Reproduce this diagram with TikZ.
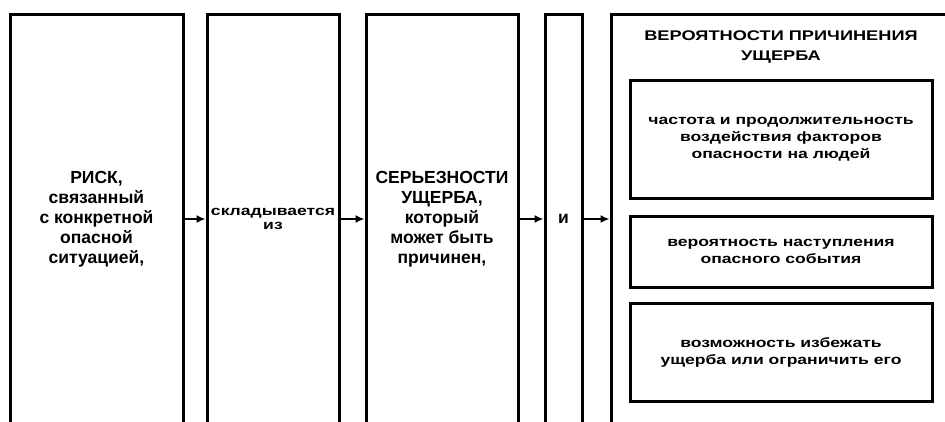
\documentclass[tikz,border=0pt]{standalone}
\usepackage{fontspec}
\setmainfont{Liberation Sans}
\newfontfamily\widefont{Liberation Sans}[FakeStretch=1.3]
\usepackage{tikz}
\usetikzlibrary{arrows.meta}

\tikzset{
	tall/.style={draw, line width=3pt, minimum height=410pt, inner sep=0pt},
	inbox/.style={draw, line width=3pt, minimum width=302pt, inner sep=0pt},
	bigtxt/.style={font=\fontsize{17.5}{20}\selectfont\bfseries, align=center},
	smalltxt/.style={font=\widefont\fontsize{13.5}{17}\selectfont\bfseries, align=center},
	arr/.style={-{Latex[length=9pt,width=8pt]}, line width=1.6pt}
}

\begin{document}
\begin{tikzpicture}[x=1pt,y=-1pt]
		\useasboundingbox (0,0) rectangle (945,421);
		\clip (0,0) rectangle (945,421);

		\node[tall, bigtxt, minimum width=173pt] (risk) at (96.5,219) {РИСК,\\связанный\\с конкретной\\опасной\\ситуацией,};
		\node[tall, smalltxt, minimum width=132pt, font=\widefont\fontsize{13.5}{14}\selectfont\bfseries] (sum) at (273,219) {складывается\\из};
		\node[tall, bigtxt, minimum width=152pt] (sev) at (442,219) {СЕРЬЕЗНОСТИ\\УЩЕРБА,\\который\\может быть\\причинен,};
		\node[tall, bigtxt, minimum width=37pt] (and) at (563.5,219) {и};
		\node[tall, minimum width=349pt] (prob) at (785.5,219) {};

		\node[smalltxt, font=\widefont\fontsize{14}{20}\selectfont\bfseries] (probtitle) at (781,47) {ВЕРОЯТНОСТИ ПРИЧИНЕНИЯ\\УЩЕРБА};
		\node[inbox, smalltxt, minimum height=118pt] (freq) at (781,139) {частота и продолжительность\\воздействия факторов\\опасности на людей};
		\node[inbox, smalltxt, minimum height=71pt] (event) at (781,251.5) {вероятность наступления\\опасного события};
		\node[inbox, smalltxt, minimum height=98pt] (avoid) at (781,352) {возможность избежать\\ущерба или ограничить его};

		\draw[arr] (risk) -- (sum);
		\draw[arr] (sum) -- (sev);
		\draw[arr] (sev) -- (and);
		\draw[arr] (and) -- (prob.west);
	\end{tikzpicture}
\end{document}
